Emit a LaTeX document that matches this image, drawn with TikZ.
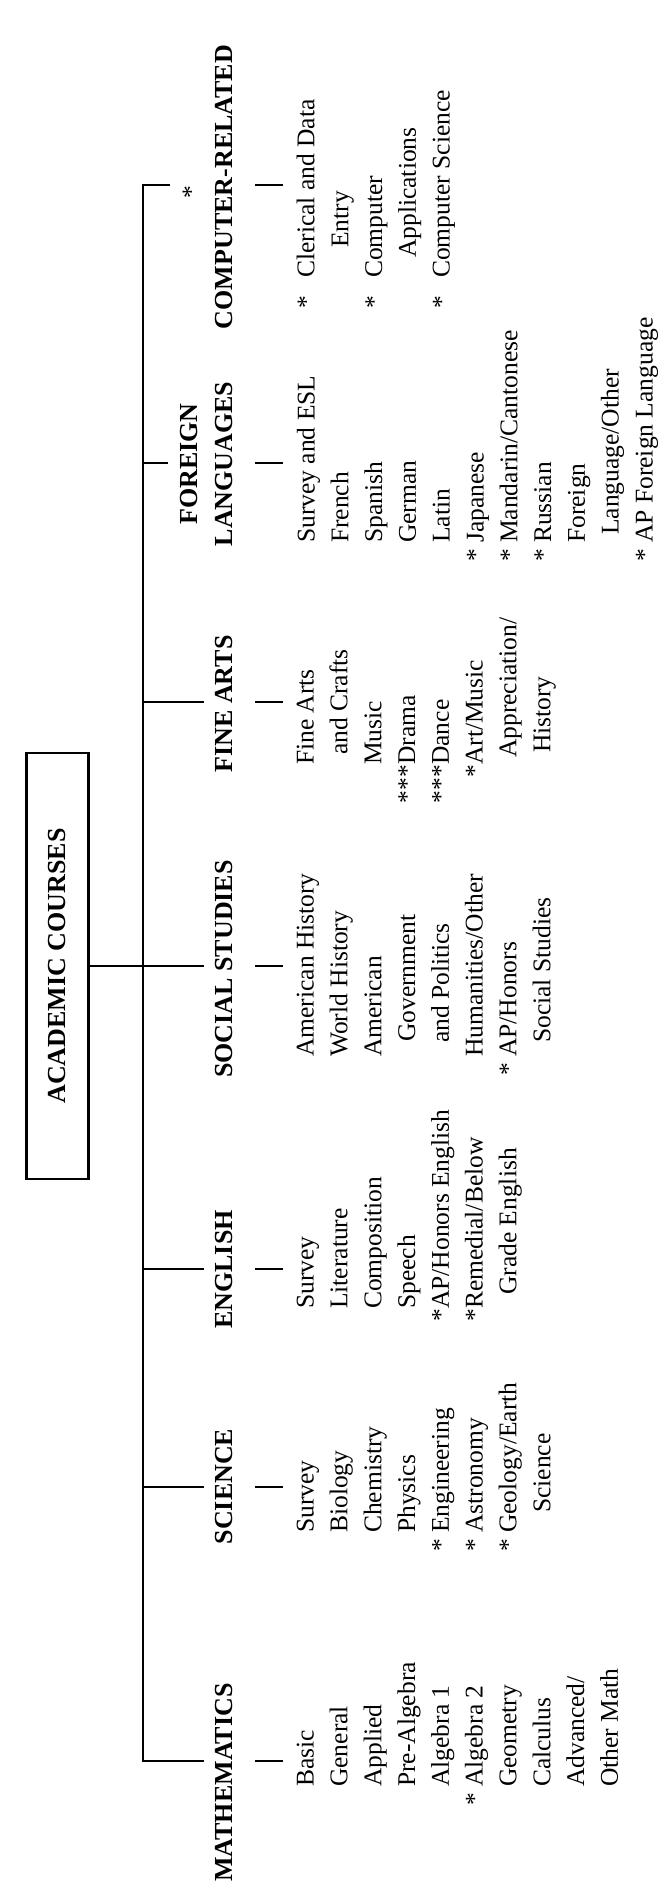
\documentclass[tikz,border=0pt]{standalone}
\usepackage{fontspec}
\setmainfont{Liberation Serif}
\tikzset{
  branch/.style={line width=2.8pt},
  head/.style={rotate=90,anchor=south,inner sep=0pt,align=center,font=\bfseries\fontsize{26}{35}\selectfont},
  items/.style={rotate=90,anchor=north west,inner sep=0pt,align=left,font=\fontsize{25.5}{33.8}\selectfont},
}
\begin{document}
\begin{tikzpicture}[x=1pt,y=1pt]
  \useasboundingbox (0,0) rectangle (663,1897);
  % top box
  \node[draw,line width=2.8pt,rotate=90,minimum width=426pt,minimum height=62pt,inner sep=0pt,font=\bfseries\fontsize{26}{30}\selectfont] (ac) at (57.5,931) {ACADEMIC COURSES};
  % subject headings
  \node[head,anchor=south west] (hmath) at (233,15) {MATHEMATICS};
  \node[head] (hsci) at (233,410.5) {SCIENCE};
  \node[head] (heng) at (233,627.5) {ENGLISH};
  \node[head] (hsoc) at (233,928) {SOCIAL STUDIES};
  \node[head] (hart) at (233,1193) {FINE ARTS};
  \node[head] (hlang) at (233,1433) {FOREIGN\\LANGUAGES};
  \node[head] (hcomp) at (233,1710) {COMPUTER-RELATED};
  \node[rotate=90,inner sep=0pt,font=\fontsize{25.5}{30}\selectfont] (cstar) at (191,1705) {*};
  % course lists
  \node[items] (imath) at (296.6,110) {Basic\\General\\Applied\\Pre-Algebra\\Algebra 1\\\llap{*\ }Algebra 2\\Geometry\\Calculus\\Advanced/\\Other Math};
  \node[items] (isci) at (296.6,364) {Survey\\Biology\\Chemistry\\Physics\\\llap{*\ }Engineering\\\llap{*\ }Astronomy\\\llap{*\ }Geology/Earth\\\hspace*{20pt}Science};
  \node[items] (ieng) at (296.6,588) {Survey\\Literature\\Composition\\Speech\\\llap{*}AP/Honors English\\\llap{*}Remedial/Below\\\hspace*{14pt}Grade English};
  \node[items] (isoc) at (296.6,840) {American History\\World History\\American\\\hspace*{15pt}Government\\\hspace*{14pt}and Politics\\Humanities/Other\\\llap{*\ }AP/Honors\\\hspace*{14pt}Social Studies};
  \node[items] (iart) at (296.6,1132) {Fine Arts\\\hspace*{10pt}and Crafts\\Music\\\llap{***}Drama\\\llap{***}Dance\\\llap{*}Art/Music\\\hspace*{7pt}Appreciation/\\\hspace*{12pt}History};
  \node[items] (ilang) at (296.6,1354) {Survey and ESL\\French\\Spanish\\German\\Latin\\\llap{*\ }Japanese\\\llap{*\ }Mandarin/Cantonese\\\llap{*\ }Russian\\Foreign\\\hspace*{8pt}Language/Other\\\llap{*\ }AP Foreign Language};
  \node[items] (icomp) at (296.6,1619) {\llap{*\hspace{18pt}}Clerical and Data\\\hspace*{30pt}Entry\\\llap{*\hspace{18pt}}Computer\\\hspace*{20pt}Applications\\\llap{*\hspace{18pt}}Computer Science};
  % trunk points
  \coordinate (tmath) at (143,136);
  \coordinate (tsci) at (143,410);
  \coordinate (teng) at (143,628);
  \coordinate (tbox) at (143,931);
  \coordinate (tart) at (143,1195);
  \coordinate (tlang) at (143,1434);
  \coordinate (tcomp) at (143,1712);
  % tree lines
  \draw[branch] ([xshift=27pt]tcomp) -- (tcomp) -- (tmath) -- ([xshift=61pt]tmath);
  \draw[branch] (tsci) -- ([xshift=61pt]tsci);
  \draw[branch] (teng) -- ([xshift=61pt]teng);
  \draw[branch] (ac.south) -- ([xshift=61pt]tbox);
  \draw[branch] (tart) -- ([xshift=61pt]tart);
  \draw[branch] (tlang) -- ([xshift=25pt]tlang);
  % short marks under the headings
  \draw[branch] ([xshift=112pt]tmath) -- ([xshift=140pt]tmath);
  \draw[branch] ([xshift=112pt]tsci) -- ([xshift=140pt]tsci);
  \draw[branch] ([xshift=112pt]teng) -- ([xshift=140pt]teng);
  \draw[branch] ([xshift=112pt]tbox) -- ([xshift=140pt]tbox);
  \draw[branch] ([xshift=112pt]tart) -- ([xshift=140pt]tart);
  \draw[branch] ([xshift=112pt]tlang) -- ([xshift=140pt]tlang);
  \draw[branch] ([xshift=112pt]tcomp) -- ([xshift=140pt]tcomp);
\end{tikzpicture}
\end{document}
